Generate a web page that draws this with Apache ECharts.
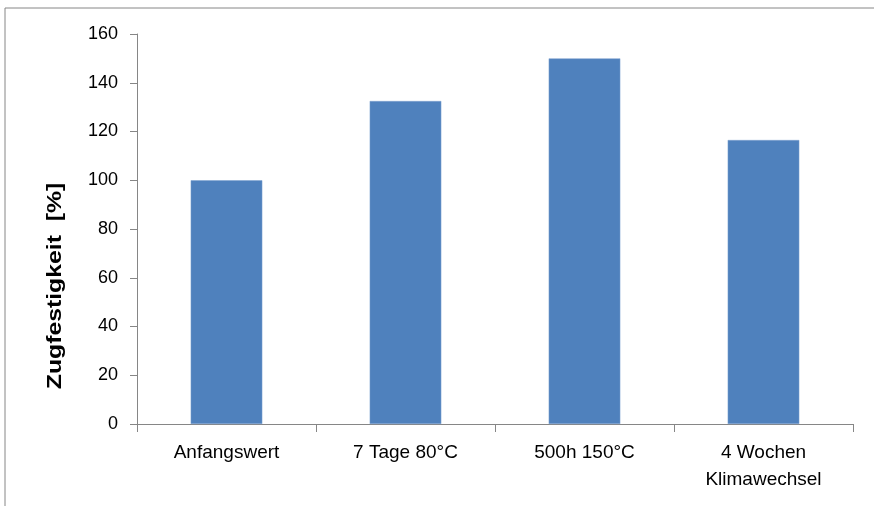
<!DOCTYPE html>
<html><head><meta charset="utf-8">
<script src="https://cdn.jsdelivr.net/npm/echarts@6/dist/echarts.min.js"></script>
<style>html,body{margin:0;padding:0;background:#fff}#c{width:874px;height:506px}</style>
</head><body><div id="c"></div>
<script>
const categories = ['Anfangswert', '7 Tage 80°C', '500h 150°C', '4 Wochen\nKlimawechsel'];
const values = [100, 132.5, 150, 116.5];
const yTicks = [0, 20, 40, 60, 80, 100, 120, 140, 160];
const yTitle = 'Zugfestigkeit  [%]';

const FONT = '"Liberation Sans", Arial, sans-serif';
const chart = echarts.init(document.getElementById('c'));
chart.setOption({
  animation: false,
  grid: {left: 137, top: 34, right: 21, bottom: 82},
  graphic: [
    {type: 'rect', shape: {x: 5, y: 8, width: 900, height: 600}, style: {fill: 'none', stroke: '#868686', lineWidth: 1}, silent: true},
    {type: 'text', x: 55, y: 286, rotation: Math.PI / 2, scaleX: 1.18, style: {text: yTitle, font: 'bold 21px ' + FONT, fill: '#000', align: 'center', verticalAlign: 'middle'}}
  ],
  xAxis: {
    type: 'category', data: categories,
    axisLine: {lineStyle: {color: '#868686'}},
    axisTick: {show: true, length: 8, lineStyle: {color: '#868686'}},
    axisLabel: {color: '#000', fontSize: 19, fontFamily: FONT, margin: 15, lineHeight: 27, interval: 0}
  },
  yAxis: {
    type: 'value', min: yTicks[0], max: yTicks[yTicks.length - 1], interval: 20,
    axisLine: {show: true, lineStyle: {color: '#868686'}},
    axisTick: {show: true, length: 7, lineStyle: {color: '#868686'}},
    splitLine: {show: false},
    axisLabel: {color: '#000', fontSize: 18, fontFamily: FONT, margin: 19}
  },
  series: [{
    type: 'bar', data: values, barWidth: '40%',
    itemStyle: {color: '#4F81BD', borderColor: '#7FA3D0', borderWidth: 0.5}
  }]
});
</script></body></html>
